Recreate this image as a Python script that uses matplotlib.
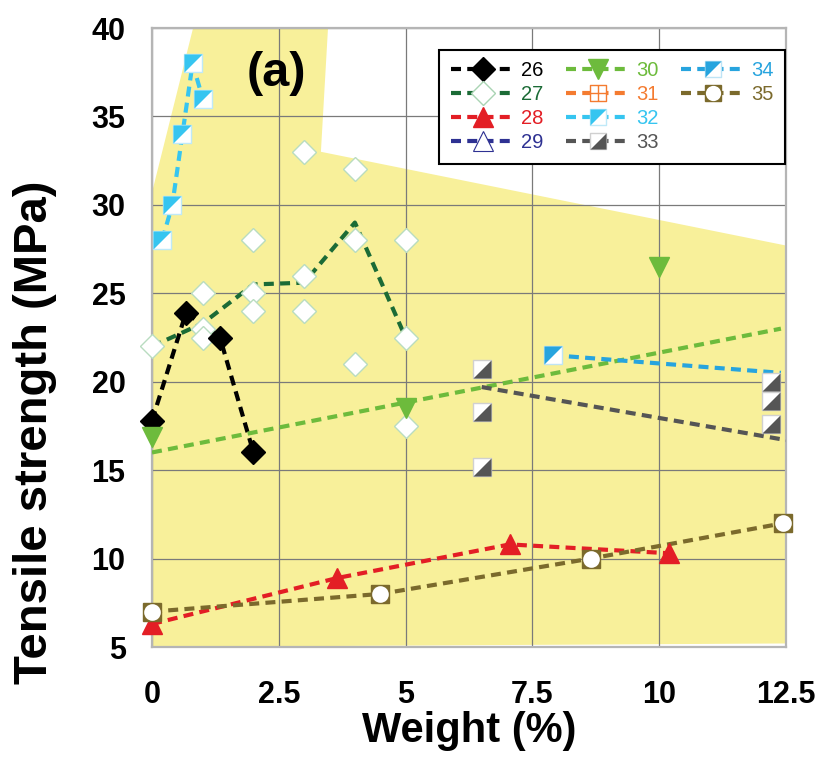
import numpy as np
import matplotlib
matplotlib.use("Agg")
import matplotlib.pyplot as plt
from matplotlib.path import Path
from matplotlib.lines import Line2D
from matplotlib.patches import Polygon

plt.rcParams['font.family'] = ['Liberation Sans', 'DejaVu Sans']

# -------------------------------
# Data: tensile strength vs filler weight
# -------------------------------
w26 = [0, 0.67, 1.34, 2.0]
ts26 = [17.8, 23.9, 22.5, 16.0]

w27 = [3, 4, 2, 4, 5, 3, 1, 2, 2, 3, 0, 1, 1, 5, 4, 5]
ts27 = [33, 32, 28, 28, 28, 26, 25, 25, 24, 24, 22, 23, 22.5, 22.5, 21, 17.5]
w27_fit = [0, 1, 2, 3, 4, 5]
ts27_fit = [22.0, 23.3, 25.5, 25.6, 29.0, 22.5]

w28 = [0, 3.65, 7.05, 10.2]
ts28 = [6.3, 8.9, 10.8, 10.3]

w30 = [0, 5, 10]
ts30 = [16.9, 18.5, 26.5]
w30_fit = [0, 12.4]
ts30_fit = [16.0, 23.0]

w32 = [0.2, 0.4, 0.6, 0.8, 1.0]
ts32 = [28, 30, 34, 38, 36]

w33 = [6.5, 6.5, 6.5, 12.2, 12.2, 12.2]
ts33 = [20.7, 18.3, 15.2, 20.0, 18.9, 17.6]
w33_fit = [6.5, 12.5]
ts33_fit = [19.7, 16.7]

w34 = [7.9]
ts34 = [21.5]
w34_fit = [7.9, 12.4]
ts34_fit = [21.5, 20.5]

w35 = [0, 4.5, 8.65, 12.45]
ts35 = [7.0, 8.0, 10.0, 12.0]

# envelope of reported values
env_w = [0.81, 3.47, 3.33, 12.5, 12.5, 0, 0]
env_ts = [40, 40, 33.0, 27.7, 5.2, 5, 30.7]

series_labels = ['26', '27', '28', '29', '30', '31', '32', '33', '34', '35']
colors = {
    '26': '#000000', '27': '#1b6b36', '28': '#e31e25', '29': '#2e3192',
    '30': '#6dbb3c', '31': '#f47b30', '32': '#36c5f0', '33': '#555555',
    '34': '#27a4de', '35': '#7b6a2c',
}

# -------------------------------
# Custom markers
# -------------------------------
SQ = Path([(-1, -1), (1, -1), (1, 1), (-1, 1), (-1, -1)],
          [Path.MOVETO, Path.LINETO, Path.LINETO, Path.LINETO, Path.CLOSEPOLY])
TRI_UL = Path([(-1, -1), (-1, 1), (1, 1), (-1, -1)],
              [Path.MOVETO, Path.LINETO, Path.LINETO, Path.CLOSEPOLY])
TRI_LR = Path([(-1, -1), (1, -1), (1, 1), (-1, -1)],
              [Path.MOVETO, Path.LINETO, Path.LINETO, Path.CLOSEPOLY])
GRID_SQ = Path([(-1, -1), (1, -1), (1, 1), (-1, 1), (-1, -1),
                (0, -1), (0, 1), (-1, 0), (1, 0)],
               [Path.MOVETO, Path.LINETO, Path.LINETO, Path.LINETO, Path.CLOSEPOLY,
                Path.MOVETO, Path.LINETO, Path.MOVETO, Path.LINETO])

DASH = (0, (2.4, 1.5))
LW = 3.0


def half_square(ax, x, y, fill, tri, edge, ms=12.5):
    """Square marker with one diagonal half filled."""
    ax.plot(x, y, ls='none', marker=SQ, ms=ms, mfc='white', mec=edge, mew=1.0,
            zorder=5, clip_on=False)
    ax.plot(x, y, ls='none', marker=tri, ms=ms, mfc=fill, mec='none',
            zorder=6, clip_on=False)


fig = plt.figure(figsize=(8.24, 7.63), dpi=100)
ax = fig.add_axes([0.18447, 0.15203, 0.76942, 0.81127])

ax.add_patch(Polygon(np.column_stack([env_w, env_ts]), closed=True,
                     facecolor='#f8f09a', edgecolor='none', zorder=0.1))

# connecting / trend lines
ax.plot(w26, ts26, color=colors['26'], lw=LW, ls=DASH, zorder=3)
ax.plot(w27_fit, ts27_fit, color=colors['27'], lw=LW, ls=DASH, zorder=3)
ax.plot(w28, ts28, color=colors['28'], lw=LW, ls=DASH, zorder=3)
ax.plot(w30_fit, ts30_fit, color=colors['30'], lw=LW, ls=DASH, zorder=3)
ax.plot(w32, ts32, color=colors['32'], lw=LW, ls=DASH, zorder=3)
ax.plot(w33_fit, ts33_fit, color=colors['33'], lw=LW, ls=DASH, zorder=3)
ax.plot(w34_fit, ts34_fit, color=colors['34'], lw=LW, ls=DASH, zorder=3)
ax.plot(w35, ts35, color=colors['35'], lw=LW, ls=DASH, zorder=3)

# markers
ax.plot(w27, ts27, ls='none', marker='D', ms=12, mfc='white', mec='#b9dcc0',
        mew=1.0, zorder=4, clip_on=False)
ax.plot(w26, ts26, ls='none', marker='D', ms=12, mfc='black', mec='black',
        zorder=5, clip_on=False)
ax.plot(w28, ts28, ls='none', marker='^', ms=15, mfc=colors['28'], mec=colors['28'],
        zorder=4, clip_on=False)
ax.plot(w30, ts30, ls='none', marker='v', ms=15, mfc=colors['30'], mec=colors['30'],
        zorder=5, clip_on=False)
half_square(ax, w32, ts32, colors['32'], TRI_UL, '#bfe9f8')
half_square(ax, w33, ts33, colors['33'], TRI_LR, '#d0d0d0')
half_square(ax, w34, ts34, colors['34'], TRI_UL, '#bfe4f5')
ax.plot(w35, ts35, ls='none', marker='s', ms=13, mfc=colors['35'], mec=colors['35'],
        zorder=5, clip_on=False)
ax.plot(w35, ts35, ls='none', marker='o', ms=12, mfc='white', mec='none',
        zorder=6, clip_on=False)

ax.text(2.45, 37.45, '(a)', fontsize=35, fontweight='bold', ha='center', va='center',
        zorder=7)

# axes styling
ax.set_xlim(0, 12.5)
ax.set_ylim(5, 40)
ax.set_xticks([0, 2.5, 5, 7.5, 10, 12.5])
ax.set_xticklabels(['0', '2.5', '5', '7.5', '10', '12.5'])
ax.set_yticks(np.arange(5, 41, 5))
ax.tick_params(length=0, labelsize=22)
ax.tick_params(axis='y', pad=19)
ax.tick_params(axis='x', pad=24)
for lab in ax.get_xticklabels() + ax.get_yticklabels():
    lab.set_fontweight('bold')
ax.set_axisbelow(True)
ax.grid(True, color='#7a7a7a', lw=0.9)
for sp in ax.spines.values():
    sp.set_color('#b5b5b5')
    sp.set_linewidth(1.6)

ax.set_xlabel('Weight (%)', fontsize=30, fontweight='bold')
ax.set_ylabel('Tensile strength (MPa)', fontsize=34, fontweight='bold')
ax.xaxis.set_label_coords(0.5, -0.104)
ax.yaxis.set_label_coords(-0.15, 0.347)

# -------------------------------
# Legend with proxy handles
# -------------------------------
def proxy(c, **kw):
    return Line2D([], [], color=c, lw=LW, ls=DASH, **kw)


def proxy_mark(**kw):
    return Line2D([], [], ls='none', **kw)


handles = [
    proxy(colors['26'], marker='D', ms=12, mfc='black', mec='black'),
    proxy(colors['27'], marker='D', ms=12, mfc='white', mec='#a9d4b3'),
    proxy(colors['28'], marker='^', ms=14, mfc=colors['28'], mec=colors['28']),
    proxy(colors['29'], marker='^', ms=14, mfc='white', mec=colors['29'], mew=0.8),
    proxy(colors['30'], marker='v', ms=14, mfc=colors['30'], mec=colors['30']),
    proxy(colors['31'], marker=GRID_SQ, ms=12, mfc='white', mec=colors['31'], mew=1.0),
    (proxy(colors['32'], marker=SQ, ms=12, mfc='white', mec='#bfe9f8'),
     proxy_mark(marker=TRI_UL, ms=12, mfc=colors['32'], mec='none')),
    (proxy(colors['33'], marker=SQ, ms=12, mfc='white', mec='#d0d0d0'),
     proxy_mark(marker=TRI_LR, ms=12, mfc=colors['33'], mec='none')),
    (proxy(colors['34'], marker=SQ, ms=12, mfc='white', mec='#bfe4f5'),
     proxy_mark(marker=TRI_UL, ms=12, mfc=colors['34'], mec='none')),
    (proxy(colors['35'], marker='s', ms=12, mfc=colors['35'], mec=colors['35']),
     proxy_mark(marker='o', ms=11, mfc='white', mec='none')),
    Line2D([], [], ls='none'),
    Line2D([], [], ls='none'),
]
labels = series_labels + ['', '']

leg = ax.legend(handles, labels, ncol=3, loc='upper right',
                bbox_to_anchor=(0.998, 0.964), borderaxespad=0,
                fontsize=14.5, handlelength=3.2, handletextpad=0.3,
                columnspacing=1.1, labelspacing=0.25, borderpad=0.55,
                fancybox=False, framealpha=1, edgecolor='black', numpoints=1)
leg.get_frame().set_linewidth(1.5)
leg.set_zorder(10)
for txt, lab in zip(leg.get_texts(), labels):
    if lab:
        txt.set_color(colors[lab])

fig.savefig('out.png', dpi=100)
